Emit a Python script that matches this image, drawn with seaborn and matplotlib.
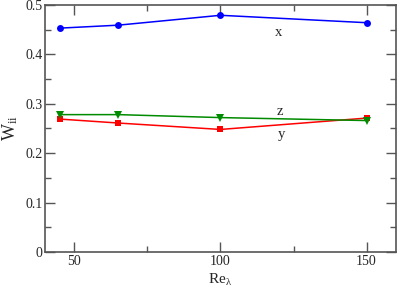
import matplotlib
matplotlib.use("Agg")
import matplotlib.pyplot as plt
import seaborn as sns
import pandas as pd
from matplotlib.ticker import MultipleLocator

re_lambda = [45, 65, 100, 150]
w_x = [0.453, 0.459, 0.479, 0.464]
w_y = [0.269, 0.261, 0.248, 0.271]
w_z = [0.278, 0.278, 0.272, 0.266]

sns.set_style("ticks")
plt.rcParams['font.family'] = ['Liberation Serif', 'DejaVu Serif']
plt.rcParams['mathtext.fontset'] = 'stix'

df = pd.DataFrame({
    "Re": re_lambda * 3,
    "W": w_x + w_y + w_z,
    "comp": ["x"] * 4 + ["y"] * 4 + ["z"] * 4,
})

fig = plt.figure(figsize=(3.99, 2.89), dpi=100)
ax = fig.add_axes([0.113, 0.128, 0.879, 0.855])

palette = {"x": "#0000ff", "y": "#ff0000", "z": "#008b00"}
markers = {"x": "o", "y": "s", "z": "v"}
sns.lineplot(data=df, x="Re", y="W", hue="comp", style="comp", palette=palette,
             markers=markers, dashes=False, markersize=5, linewidth=1.1,
             markeredgewidth=0, legend=False, ax=ax)
for ln in ax.lines:
    if ln.get_marker() == "v":
        ln.set_markersize(5.6)
    elif ln.get_marker() == "s":
        ln.set_markersize(4.8)

ax.set_xlim(40, 160)
ax.set_ylim(0, 0.5)
ax.xaxis.set_major_locator(MultipleLocator(50))
ax.xaxis.set_minor_locator(MultipleLocator(25))
ax.yaxis.set_major_locator(MultipleLocator(0.1))
ax.yaxis.set_minor_locator(MultipleLocator(0.05))
ax.set_yticks([0, 0.1, 0.2, 0.3, 0.4, 0.5])
ax.set_yticklabels(["0", "0.1", "0.2", "0.3", "0.4", "0.5"])
ax.tick_params(which="both", direction="in", top=True, right=True, color="#555555",
               labelsize=10, pad=2)
ax.tick_params(which="major", length=7, width=1)
ax.tick_params(which="minor", length=4, width=1)
for s in ax.spines.values():
    s.set_color("#555555")
    s.set_linewidth(1.2)

ax.set_xlabel(r"Re$_\mathregular{λ}$", fontsize=11, labelpad=3)
ax.set_ylabel(r"W$_\mathregular{ii}$", fontsize=13, labelpad=4)

ax.text(120, 0.445, "x", fontsize=10.5, ha="center", va="center")
ax.text(120.5, 0.285, "z", fontsize=10.5, ha="center", va="center")
ax.text(121, 0.238, "y", fontsize=10.5, ha="center", va="center")

fig.savefig("out.png", dpi=100)
